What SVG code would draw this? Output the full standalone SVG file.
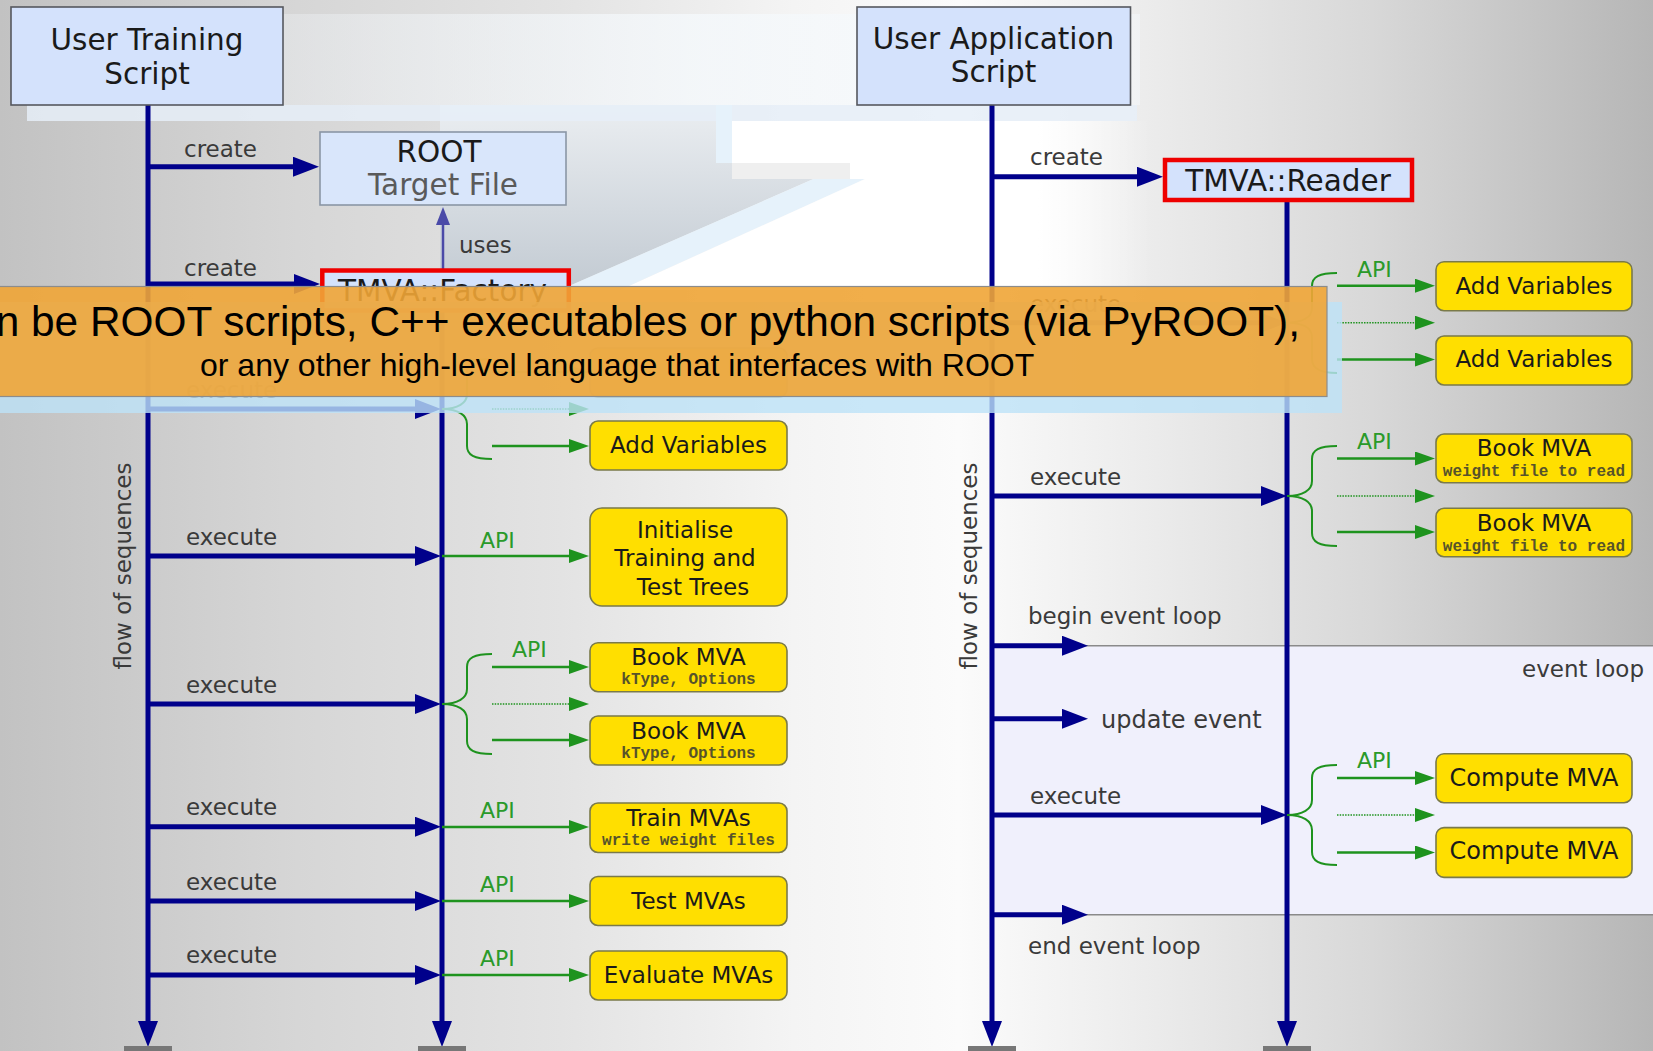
<svg xmlns="http://www.w3.org/2000/svg" width="1653" height="1051" viewBox="0 0 1653 1051">
<defs>
<linearGradient id="bg" x1="0" y1="0" x2="1653" y2="0" gradientUnits="userSpaceOnUse">
<stop offset="0" stop-color="#c2c2c2"/>
<stop offset="0.18" stop-color="#d6d6d6"/>
<stop offset="0.34" stop-color="#e3e3e3"/>
<stop offset="0.48" stop-color="#f4f4f4"/>
<stop offset="0.58" stop-color="#fbfbfb"/>
<stop offset="0.70" stop-color="#ebebeb"/>
<stop offset="0.83" stop-color="#d8d8d8"/>
<stop offset="1" stop-color="#b6b6b6"/>
</linearGradient>
<linearGradient id="wedge" x1="0" y1="90" x2="0" y2="290" gradientUnits="userSpaceOnUse">
<stop offset="0" stop-color="#eef1f4"/>
<stop offset="1" stop-color="#c2cad2"/>
</linearGradient>
<linearGradient id="whitefade" x1="700" y1="0" x2="1150" y2="0" gradientUnits="userSpaceOnUse">
<stop offset="0" stop-color="#ffffff" stop-opacity="1"/>
<stop offset="0.75" stop-color="#ffffff" stop-opacity="1"/>
<stop offset="1" stop-color="#ffffff" stop-opacity="0"/>
</linearGradient>
<linearGradient id="topfade" x1="270" y1="0" x2="1140" y2="0" gradientUnits="userSpaceOnUse">
<stop offset="0" stop-color="#f3f7fb" stop-opacity="0.3"/>
<stop offset="0.5" stop-color="#f5f9fc" stop-opacity="0.8"/>
<stop offset="1" stop-color="#f5f9fc" stop-opacity="0.5"/>
</linearGradient>
<marker id="navyHead" markerUnits="userSpaceOnUse" markerWidth="26" markerHeight="20" refX="16" refY="10" orient="auto">
<path d="M0,0 L26,10 L0,20 Z" fill="#00008b"/>
</marker>
<marker id="greenHead" markerUnits="userSpaceOnUse" markerWidth="20" markerHeight="14" refX="12" refY="7" orient="auto">
<path d="M0,0 L20,7 L0,14 Z" fill="#1e931e"/>
</marker>
<marker id="usesHead" markerUnits="userSpaceOnUse" markerWidth="18" markerHeight="14" refX="10" refY="7" orient="auto">
<path d="M0,0 L18,7 L0,14 Z" fill="#4a4aa8"/>
</marker>
<style>
.t{font-family:"DejaVu Sans",sans-serif;fill:#1a1a1a}
.title{font-size:29.5px;text-anchor:middle}
.lbl{font-family:"DejaVu Sans",sans-serif;font-size:23px;fill:#3a3a3a}
.api{font-family:"DejaVu Sans",sans-serif;font-size:22px;fill:#2a9a2a}
.bx{fill:#ffdf00;stroke:#7a7a4a;stroke-width:1.6}
.bt{font-family:"DejaVu Sans",sans-serif;font-size:23px;fill:#1a1a1a;text-anchor:middle}
.mono{font-family:"Liberation Mono",monospace;font-weight:bold;font-size:16px;fill:#57532a;text-anchor:middle}
.obj{fill:#d4e2fc;stroke:#55585e;stroke-width:1.6}
.red{fill:#d4e2fc;stroke:#ee0000;stroke-width:4.5}
.life{stroke:#00008b;stroke-width:5;fill:none}
.exe{stroke:#00008b;stroke-width:5;fill:none;marker-end:url(#navyHead)}
.ga{stroke:#1e931e;stroke-width:2.6;fill:none;marker-end:url(#greenHead)}
.gd{stroke:#1e931e;stroke-width:1.6;stroke-dasharray:1.5 1.2;fill:none;marker-end:url(#greenHead)}
.brace{stroke:#1e931e;stroke-width:2;fill:none}
.base{fill:#777777}
</style>
</defs>

<g id="background">
<rect x="0" y="0" width="1653" height="1051" fill="url(#bg)"/>
<rect x="270" y="14" width="870" height="91" fill="url(#topfade)"/>
<polygon points="440,105 716,105 716,163 850,163 560,290 440,290" fill="url(#wedge)"/>
<rect x="27" y="105" width="1110" height="16" fill="#e6eff8" opacity="0.85"/>
<rect x="716" y="105" width="16" height="58" fill="#e6f2fb"/>
<polygon points="850,163 865,179 620,290 560,290" fill="#e6f2fb"/>
<polygon points="732,121 1150,121 1150,290 620,290 865,179 732,179" fill="url(#whitefade)"/>
<rect x="732" y="163" width="118" height="16" fill="#efefef"/>
</g>

<g id="event-loop">
<rect x="994" y="645.7" width="670" height="269" fill="#f0f0fc"/>
<line x1="994" y1="645.7" x2="1653" y2="645.7" stroke="#8a8a8a" stroke-width="1.5"/>
<line x1="994" y1="914.7" x2="1653" y2="914.7" stroke="#8a8a8a" stroke-width="1.5"/>
<text class="lbl" x="1644" y="677" text-anchor="end">event loop</text>
</g>

<g id="connectors">
<line class="life" x1="148" y1="105" x2="148" y2="1037" marker-end="url(#navyHead)"/>
<line class="life" x1="442" y1="310" x2="442" y2="1037" marker-end="url(#navyHead)"/>
<line class="life" x1="992" y1="105" x2="992" y2="1037" marker-end="url(#navyHead)"/>
<line class="life" x1="1287" y1="200" x2="1287" y2="1037" marker-end="url(#navyHead)"/>
<rect class="base" x="124" y="1046" width="48" height="8"/>
<rect class="base" x="418" y="1046" width="48" height="8"/>
<rect class="base" x="968" y="1046" width="48" height="8"/>
<rect class="base" x="1263" y="1046" width="48" height="8"/>

<line class="exe" x1="148" y1="166.7" x2="309" y2="166.7"/>
<text class="lbl" x="184" y="157">create</text>
<line class="exe" x1="148" y1="284" x2="310" y2="284" stroke-width="3"/>
<text class="lbl" x="184" y="276">create</text>
<line x1="443" y1="270" x2="443" y2="215" stroke="#4a4aa8" stroke-width="2.5" marker-end="url(#usesHead)"/>
<text class="lbl" x="459" y="253">uses</text>
<line class="exe" x1="992" y1="176.7" x2="1153" y2="176.7"/>
<text class="lbl" x="1030" y="165">create</text>

<line class="exe" x1="148" y1="409" x2="431" y2="409"/>
<text class="lbl" x="186" y="398">execute</text>
<line class="exe" x1="148" y1="556" x2="431" y2="556"/>
<text class="lbl" x="186" y="545">execute</text>
<line class="exe" x1="148" y1="704" x2="431" y2="704"/>
<text class="lbl" x="186" y="693">execute</text>
<line class="exe" x1="148" y1="826.7" x2="431" y2="826.7"/>
<text class="lbl" x="186" y="815">execute</text>
<line class="exe" x1="148" y1="901" x2="431" y2="901"/>
<text class="lbl" x="186" y="890">execute</text>
<line class="exe" x1="148" y1="975" x2="431" y2="975"/>
<text class="lbl" x="186" y="963">execute</text>

<path class="brace" d="M492,359 C474,359 467,363 467,372 L467,394 C467,403 458,409 442,409 C458,409 467,415 467,424 L467,446 C467,455 474,459 492,459"/>
<line class="ga" x1="492" y1="372" x2="581" y2="372"/>
<line class="gd" x1="492" y1="409" x2="581" y2="409"/>
<line class="ga" x1="492" y1="446" x2="581" y2="446"/>

<line class="ga" x1="442" y1="556" x2="581" y2="556" stroke-width="2.2"/>
<text class="api" x="480" y="548">API</text>

<path class="brace" d="M492,654 C474,654 467,658 467,667 L467,689 C467,698 458,704 442,704 C458,704 467,710 467,719 L467,741 C467,750 474,754 492,754"/>
<line class="ga" x1="492" y1="667" x2="581" y2="667"/>
<text class="api" x="512" y="657">API</text>
<line class="gd" x1="492" y1="704" x2="581" y2="704"/>
<line class="ga" x1="492" y1="740" x2="581" y2="740"/>

<line class="ga" x1="442" y1="827" x2="581" y2="827" stroke-width="2.2"/>
<text class="api" x="480" y="818">API</text>
<line class="ga" x1="442" y1="901" x2="581" y2="901" stroke-width="2.2"/>
<text class="api" x="480" y="892">API</text>
<line class="ga" x1="442" y1="975" x2="581" y2="975" stroke-width="2.2"/>
<text class="api" x="480" y="966">API</text>

<line class="exe" x1="992" y1="322.7" x2="1277" y2="322.7"/>
<text class="lbl" x="1030" y="312">execute</text>
<line class="exe" x1="992" y1="496" x2="1277" y2="496"/>
<text class="lbl" x="1030" y="485">execute</text>
<line class="exe" x1="992" y1="645.7" x2="1078" y2="645.7"/>
<text class="lbl" x="1028" y="624">begin event loop</text>
<line class="exe" x1="992" y1="718.8" x2="1078" y2="718.8"/>
<text class="lbl" x="1101" y="728" style="font-size:24px">update event</text>
<line class="exe" x1="992" y1="815" x2="1277" y2="815"/>
<text class="lbl" x="1030" y="804">execute</text>
<line class="exe" x1="992" y1="914.7" x2="1078" y2="914.7"/>
<text class="lbl" x="1028" y="954">end event loop</text>

<path class="brace" d="M1337,273 C1319,273 1312,277 1312,286 L1312,308 C1312,317 1303,322.7 1287,322.7 C1303,322.7 1312,328 1312,337 L1312,359 C1312,368 1319,373 1337,373"/>
<line class="ga" x1="1337" y1="285.7" x2="1427" y2="285.7"/>
<text class="api" x="1357" y="277">API</text>
<line class="gd" x1="1337" y1="322.7" x2="1427" y2="322.7"/>
<line class="ga" x1="1337" y1="359.5" x2="1427" y2="359.5"/>

<path class="brace" d="M1337,446 C1319,446 1312,450 1312,459 L1312,481 C1312,490 1303,496 1287,496 C1303,496 1312,502 1312,511 L1312,533 C1312,542 1319,546 1337,546"/>
<line class="ga" x1="1337" y1="458.5" x2="1427" y2="458.5"/>
<text class="api" x="1357" y="449">API</text>
<line class="gd" x1="1337" y1="496" x2="1427" y2="496"/>
<line class="ga" x1="1337" y1="532" x2="1427" y2="532"/>

<path class="brace" d="M1337,765 C1319,765 1312,769 1312,778 L1312,800 C1312,809 1303,815 1287,815 C1303,815 1312,821 1312,830 L1312,852 C1312,861 1319,865 1337,865"/>
<line class="ga" x1="1337" y1="778" x2="1427" y2="778"/>
<text class="api" x="1357" y="768">API</text>
<line class="gd" x1="1337" y1="815" x2="1427" y2="815"/>
<line class="ga" x1="1337" y1="852.5" x2="1427" y2="852.5"/>

<text class="lbl" transform="translate(131,566) rotate(-90)" text-anchor="middle">flow of sequences</text>
<text class="lbl" transform="translate(977,566) rotate(-90)" text-anchor="middle">flow of sequences</text>
</g>

<g id="user-training-script">
<rect class="obj" x="11" y="7" width="272" height="98"/>
<text class="t title" x="147" y="50">User Training</text>
<text class="t title" x="147" y="83.5">Script</text>
</g>
<g id="root-target-file">
<rect x="320" y="132" width="246" height="73" fill="#d9e6fb" stroke="#8a96a6" stroke-width="1.6"/>
<text class="t title" x="439" y="162">ROOT</text>
<text class="t title" x="443" y="195" style="fill:#5a5a5a">Target File</text>
</g>
<g id="tmva-factory">
<rect class="red" x="322.3" y="270.5" width="246.5" height="40"/>
<text class="t title" x="442.5" y="301">TMVA::Factory</text>
</g>
<g id="user-application-script">
<rect class="obj" x="857" y="7" width="273.5" height="98"/>
<text class="t title" x="993.5" y="48.5">User Application</text>
<text class="t title" x="993.5" y="82">Script</text>
</g>
<g id="tmva-reader">
<rect class="red" x="1165" y="160" width="247" height="40"/>
<text class="t title" x="1288" y="190.5">TMVA::Reader</text>
</g>

<g id="l-add-variables-hidden"><rect class="bx" x="590" y="348" width="197" height="49" rx="8"/></g>
<g id="l-add-variables-2"><rect class="bx" x="590" y="421" width="197" height="49" rx="8"/><text class="bt" x="688.5" y="453">Add Variables</text></g>
<g id="l-initialise"><rect class="bx" x="590" y="508" width="197" height="98" rx="12"/>
<text class="bt" x="685" y="538">Initialise</text><text class="bt" x="685" y="566">Training and</text><text class="bt" x="693" y="594.5">Test Trees</text></g>
<g id="l-book-mva-1"><rect class="bx" x="590" y="642.7" width="197" height="49" rx="8"/><text class="bt" x="688.5" y="665">Book MVA</text><text class="mono" x="688.5" y="684">kType, Options</text></g>
<g id="l-book-mva-2"><rect class="bx" x="590" y="716" width="197" height="49" rx="8"/><text class="bt" x="688.5" y="738.5">Book MVA</text><text class="mono" x="688.5" y="757.5">kType, Options</text></g>
<g id="l-train-mvas"><rect class="bx" x="590" y="803" width="197" height="49.5" rx="8"/><text class="bt" x="688.5" y="825.5">Train MVAs</text><text class="mono" x="688.5" y="844.5">write weight files</text></g>
<g id="l-test-mvas"><rect class="bx" x="590" y="876.5" width="197" height="49" rx="8"/><text class="bt" x="688.5" y="908.5">Test MVAs</text></g>
<g id="l-evaluate-mvas"><rect class="bx" x="590" y="951" width="197" height="49" rx="8"/><text class="bt" x="688.5" y="983">Evaluate MVAs</text></g>

<g id="r-add-variables-1"><rect class="bx" x="1436" y="261.7" width="196" height="49" rx="8"/><text class="bt" x="1534" y="293.5">Add Variables</text></g>
<g id="r-add-variables-2"><rect class="bx" x="1436" y="336" width="196" height="49" rx="8"/><text class="bt" x="1534" y="367">Add Variables</text></g>
<g id="r-book-mva-1"><rect class="bx" x="1436" y="434" width="196" height="48.7" rx="8"/><text class="bt" x="1534" y="456">Book MVA</text><text class="mono" x="1534" y="476">weight file to read</text></g>
<g id="r-book-mva-2"><rect class="bx" x="1436" y="508.3" width="196" height="48.4" rx="8"/><text class="bt" x="1534" y="530.5">Book MVA</text><text class="mono" x="1534" y="550.5">weight file to read</text></g>
<g id="r-compute-mva-1"><rect class="bx" x="1436" y="753.7" width="196" height="49" rx="8"/><text class="bt" x="1534" y="786" style="font-size:24px">Compute MVA</text></g>
<g id="r-compute-mva-2"><rect class="bx" x="1436" y="827.6" width="196" height="49.8" rx="8"/><text class="bt" x="1534" y="859" style="font-size:24px">Compute MVA</text></g>

<g id="banner">
<rect x="0" y="302" width="1342" height="111" fill="#bde2f7" opacity="0.8"/>
<rect x="-2" y="286.5" width="1329" height="110" fill="#efa536" fill-opacity="0.9" stroke="#8c8c8c" stroke-width="1.2"/>
<text x="1300" y="336" font-family="'Liberation Sans',Arial,sans-serif" font-size="42.4" text-anchor="end" fill="#000">n be ROOT scripts, C++ executables or python scripts (via PyROOT),</text>
<text x="200" y="376" font-family="'Liberation Sans',Arial,sans-serif" font-size="32" fill="#000">or any other high-level language that interfaces with ROOT</text>
</g>
</svg>
